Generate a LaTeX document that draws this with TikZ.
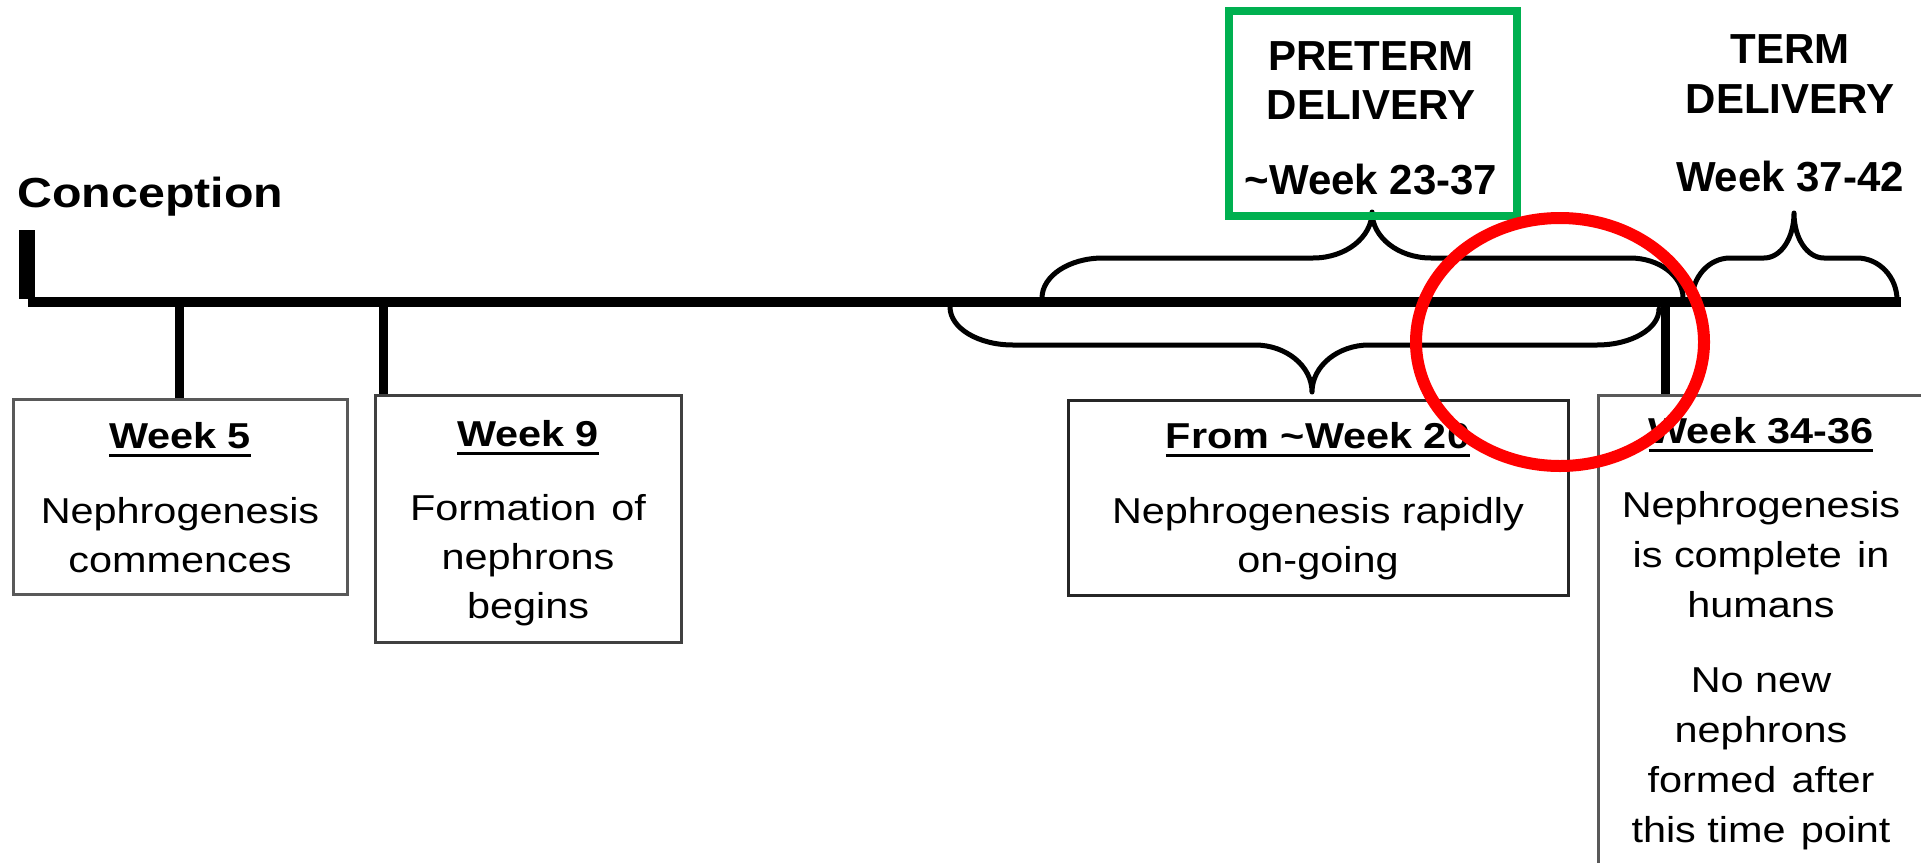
\documentclass[tikz,border=0pt]{standalone}
\usepackage{fontspec}
\setmainfont{Liberation Sans}
\newfontfamily\stfam{Liberation Sans}[FakeStretch=1.15]
\usetikzlibrary{shapes.geometric}
\definecolor{pgreen}{HTML}{00B050}
\definecolor{pred}{HTML}{FF0000}
\newcommand\hul[1]{\setbox0\hbox{#1}\leavevmode\rlap{\rule[-4.25pt]{\wd0}{1.5pt}}\box0}
\newcommand\wsp{\hspace{0.42em}}
\tikzset{
  txt/.style={inner sep=0pt, anchor=base},
  body/.style={txt, font=\stfam\fontsize{18}{22}\selectfont},
  hdr/.style={txt, font=\stfam\bfseries\fontsize{18}{22}\selectfont},
  big/.style={txt, font=\bfseries\fontsize{21}{25}\selectfont},
  box/.style={draw=black!65, line width=1.5pt, inner sep=0pt},
  drop/.style={line width=4.5pt},
  brace/.style={line width=2.5pt, line cap=round, line join=round},
}
\begin{document}
\begin{tikzpicture}[x=0.5pt,y=-0.5pt]
\useasboundingbox (0,0) rectangle (1921,862);
\fill[white] (0,0) rectangle (1921,862);
\begin{scope}
\clip (0,0) rectangle (1921,862);
% braces
\draw[brace] (1042,298) .. controls (1042,276) and (1069,258) .. (1103,258) -- (1313,258)
  .. controls (1346,258) and (1372,237) .. (1372,212)
  .. controls (1372,237) and (1398,258) .. (1431,258) -- (1630,258)
  .. controls (1659,258) and (1683,276) .. (1683,298);
\draw[brace] (950,307) .. controls (950,328) and (978,345) .. (1013,345) -- (1255,345)
  .. controls (1286,345) and (1312,366) .. (1312,392)
  .. controls (1312,366) and (1338,345) .. (1369,345) -- (1597,345)
  .. controls (1631,345) and (1659,329) .. (1659,309);
\draw[brace] (1692,300) .. controls (1692,277) and (1709,258) .. (1730,258) -- (1764,258)
  .. controls (1781,258) and (1794,238) .. (1794,213)
  .. controls (1794,238) and (1807,258) .. (1824,258) -- (1857,258)
  .. controls (1879,258) and (1897,277) .. (1897,300);
% timeline
\coordinate (ct) at (27,230);
\coordinate (cb) at (27,299);
\coordinate (ls) at (28,302);
\coordinate (le) at (1901,302);
\draw[line width=8pt] (ct) -- (cb);
\draw[line width=5pt] (ls) -- (le);
\node[txt, anchor=base west, font=\stfam\bfseries\fontsize{21}{25}\selectfont] (conc) at (17,207) {Conception};
% boxes
\node[box, minimum width=167pt, minimum height=97.5pt] (b5) at (180,496.5) {};
\node[box, draw=black!75, minimum width=153pt, minimum height=123.5pt] (b9) at (528,518.5) {};
\node[box, draw=black!85, minimum width=250pt, minimum height=97.5pt] (b20) at (1318,497.5) {};
\node[box, minimum width=166pt, minimum height=262.5pt] (b34) at (1764,657.5) {};
% drops
\coordinate (t5) at (179,302);
\coordinate (t9) at (383,302);
\coordinate (t34) at (1665,302);
\draw[drop] (t5) -- (t5 |- b5.north);
\draw[drop] (t9) -- (t9 |- b9.north);
\draw[drop] (t34) -- (t34 |- b34.north);
% texts
\node[hdr] (h5) at (180,448) {\hul{Week 5}};
\node[body] (l5a) at (180,523) {Nephrogenesis};
\node[body] (l5b) at (180,572) {commences};
\node[hdr] (h9) at (528,446) {\hul{Week 9}};
\node[body] (l9a) at (528,520) {Formation\wsp of};
\node[body] (l9b) at (528,569) {nephrons};
\node[body] (l9c) at (528,618) {begins};
\node[hdr] (h20) at (1318,448) {\hul{From \textasciitilde Week 20}};
\node[body] (l20a) at (1318,523) {Nephrogenesis rapidly};
\node[body] (l20b) at (1318,572) {on-going};
\node[hdr] (h34) at (1761,443) {\hul{Week 34-36}};
\node[body] (l34a) at (1761,517) {Nephrogenesis};
\node[body] (l34b) at (1761,567) {is complete\wsp in};
\node[body] (l34c) at (1761,617) {humans};
\node[body] (l34d) at (1761,692) {No new};
\node[body] (l34e) at (1761,742) {nephrons};
\node[body] (l34f) at (1761,792) {formed\wsp after};
\node[body] (l34g) at (1761,842) {this time\wsp point};
% delivery labels
\node[draw=pgreen, line width=4pt, minimum width=144pt, minimum height=102.5pt, inner sep=0pt] (gbox) at (1373,113.5) {};
\node[big] (pt1) at (1371,70) {PRETERM};
\node[big] (pt2) at (1371,119) {DELIVERY};
\node[big] (pt3) at (1371,194) {\textasciitilde Week 23-37};
\node[big] (tm1) at (1790,63) {TERM};
\node[big] (tm2) at (1790,113) {DELIVERY};
\node[big] (tm3) at (1790,191) {Week 37-42};
% red ring
\node[ellipse, draw=pred, line width=6pt, minimum width=144pt, minimum height=124pt, inner sep=0pt] (ring) at (1560,342) {};
\end{scope}
\end{tikzpicture}
\end{document}
